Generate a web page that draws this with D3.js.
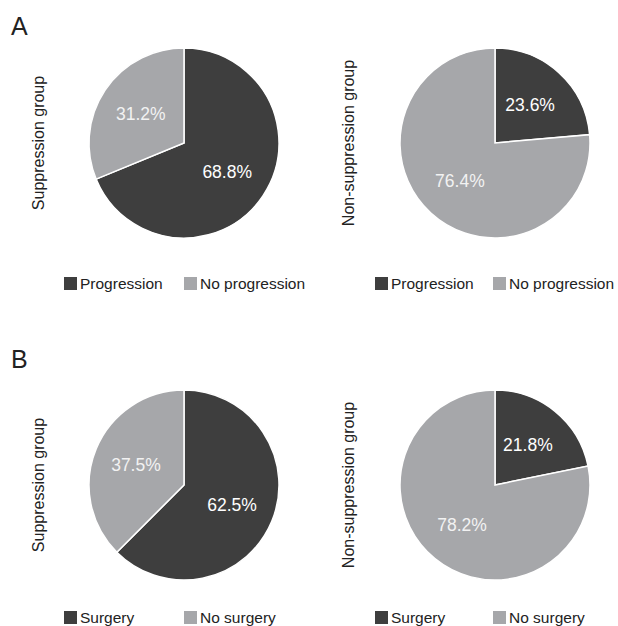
<!DOCTYPE html>
<html>
<head>
<meta charset="utf-8">
<script src="https://d3js.org/d3.v7.min.js"></script>
<style>
  body { margin: 0; background: #fff; }
  text { font-family: "Liberation Sans", Arial, sans-serif; }
</style>
</head>
<body>
<script>
// data
var groups = ["Suppression group", "Non-suppression group"];
var panelLetters = ["A", "B"];
var catsA = ["Progression", "No progression"];
var catsB = ["Surgery", "No surgery"];
var progression = [68.8, 23.6];
var noProgression = [31.2, 76.4];
var surgery = [62.5, 21.8];
var noSurgery = [37.5, 78.2];

var w = 618, h = 626;
var dark = "#3e3e3e", light = "#a6a7aa";
var r = 95;

var svg = d3.select("body").append("svg")
    .attr("width", w).attr("height", h);

var pie = d3.pie().sort(null).value(function(d) { return d.v; });
var arc = d3.arc().innerRadius(0).outerRadius(r);
var labelArc = d3.arc().innerRadius(0).outerRadius(104);

var rows = [
  { letter: panelLetters[0], cats: catsA, a: progression, b: noProgression, cy: 143, legY: 283, letterY: 35 },
  { letter: panelLetters[1], cats: catsB, a: surgery, b: noSurgery, cy: 485, legY: 617, letterY: 368 }
];
var cols = [
  { cx: 184, titleX: 38, leg: [64, 184] },
  { cx: 495, titleX: 348, leg: [375, 493] }
];

rows.forEach(function(row) {
  svg.append("text")
    .attr("x", 11).attr("y", row.letterY)
    .attr("font-size", 25).attr("fill", "#222")
    .text(row.letter);

  cols.forEach(function(col, i) {
    var data = [{ k: row.cats[0], v: row.a[i] }, { k: row.cats[1], v: row.b[i] }];
    var g = svg.append("g").attr("transform", "translate(" + col.cx + "," + row.cy + ")");

    g.selectAll("path")
      .data(pie(data))
      .enter().append("path")
      .attr("d", arc)
      .attr("fill", function(d, j) { return j === 0 ? dark : light; })
      .attr("stroke", "#fff")
      .attr("stroke-width", 1.5);

    g.selectAll("text.lbl")
      .data(pie(data))
      .enter().append("text")
      .attr("class", "lbl")
      .attr("transform", function(d) { return "translate(" + labelArc.centroid(d) + ")"; })
      .attr("text-anchor", "middle")
      .attr("dominant-baseline", "central")
      .attr("font-size", 17.5)
      .attr("fill", function(d, j) { return j === 0 ? "#fff" : "#f2f2f2"; })
      .text(function(d) { return d.data.v.toFixed(1) + "%"; });

    svg.append("text")
      .attr("transform", "translate(" + col.titleX + "," + row.cy + ") rotate(-90)")
      .attr("text-anchor", "middle")
      .attr("dominant-baseline", "central")
      .attr("font-size", 16).attr("fill", "#222")
      .text(groups[i]);

    // legend
    row.cats.forEach(function(c, j) {
      var lx = col.leg[j];
      svg.append("rect")
        .attr("x", lx).attr("y", row.legY - 6)
        .attr("width", 13).attr("height", 13)
        .attr("fill", j === 0 ? dark : light);
      svg.append("text")
        .attr("x", lx + 16).attr("y", row.legY + 6)
        .attr("font-size", 15.5).attr("fill", "#222")
        .text(c);
    });
  });
});
</script>
</body>
</html>
